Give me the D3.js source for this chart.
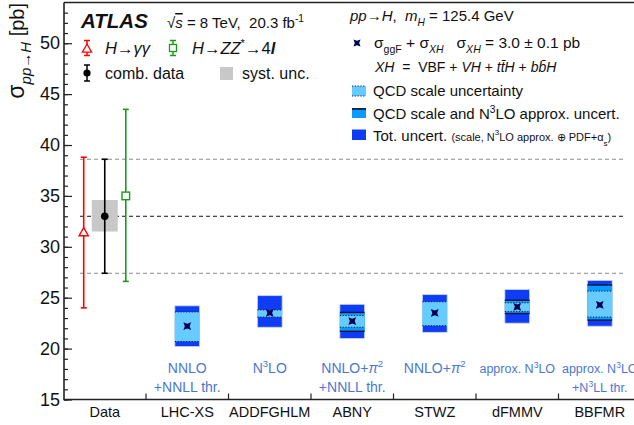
<!DOCTYPE html>
<html>
<head>
<meta charset="utf-8">
<script src="https://cdn.jsdelivr.net/npm/d3@7"></script>
<style>
  body { margin: 0; background: #fff; }
  text { font-family: "Liberation Sans", Arial, sans-serif; white-space: pre; }
</style>
</head>
<body>
<svg id="chart" width="634" height="425"></svg>
<script>
// categories on the x axis
const categories = ["Data", "LHC-XS", "ADDFGHLM", "ABNY", "STWZ", "dFMMV", "BBFMR"];
const theoryNames = ["LHC-XS", "ADDFGHLM", "ABNY", "STWZ", "dFMMV", "BBFMR"];

// measured cross sections [pb]: central, low, high
const combData = [33.0, 27.4, 38.6];
const combSyst = [31.5, 34.6];
const gamgamData = [31.4, 24.0, 38.8];
const zzData = [35.0, 26.6, 43.5];

// predictions sigma_ggF + sigma_XH [pb]
const theoryCentral = [22.2, 23.5, 22.7, 23.5, 24.1, 24.3];
const totLow = [20.2, 22.1, 21.0, 21.6, 22.5, 22.2];
const totHigh = [24.2, 25.2, 24.35, 25.3, 25.8, 26.7];
const n3loLow = [null, null, 21.7, null, 23.45, 22.8];
const n3loHigh = [null, null, 23.55, null, 24.75, 26.25];
const scaleLow = [20.7, 23.1, 22.1, 22.25, 23.65, 23.1];
const scaleHigh = [23.6, 23.8, 23.25, 24.6, 24.5, 25.65];

// order labels under each prediction
const orderLabels = [
  [["NNLO"], ["+NNLL thr."]],
  [["N", ["3", {sup: true}], "LO"]],
  [["NNLO+", ["π", {i: true}], ["2", {sup: true}]], ["+NNLL thr."]],
  [["NNLO+", ["π", {i: true}], ["2", {sup: true}]]],
  [["approx. N", ["3", {sup: true}], "LO"]],
  [["approx. N", ["3", {sup: true}], "LO"], ["+N", ["3", {sup: true}], "LL thr."]]
];
const orderSizes = [14, 14, 14, 14, 12.5, 12.5];

const yTicks = [15, 20, 25, 30, 35, 40, 45, 50];
const yDomain = [15, 54];

const svg = d3.select("#chart");
const plotLeft = 64, plotTop = 2.5, plotBottom = 399.5, plotRight = 641;

const x = d3.scaleBand().domain(categories).range([plotLeft - 0.5, plotRight]).padding(0);
const y = d3.scaleLinear().domain(yDomain).range([plotBottom, plotTop]);
const bw = x.bandwidth();
const cx = c => x(c) + bw / 2;

const dark = "#0f3cf5", medium = "#0a9bff", light = "#66ccff", navy = "#000055";
const labelBlue = "#4a78d0";

// rich text helper: parts are strings or [string, {i, b, sub, sup}]
function rich(g, px, py, parts, size) {
  const t = g.append("text").attr("x", px).attr("y", py).attr("font-size", size);
  let shift = 0;
  parts.forEach(p => {
    const [str, o] = typeof p === "string" ? [p, {}] : [p[0], p[1] || {}];
    const target = o.sub ? size * 0.32 : o.sup ? -size * 0.42 : 0;
    const ts = t.append("tspan").text(str).attr("dy", target - shift);
    shift = target;
    if (o.sub || o.sup) ts.attr("font-size", o.fs || size * 0.68);
    if (o.fs && !(o.sub || o.sup)) ts.attr("font-size", o.fs);
    if (o.i) ts.attr("font-style", "italic");
    if (o.b) ts.attr("font-weight", "bold");
    if (o.over) ts.style("text-decoration", "overline");
  });
  return t;
}

function starPath(r, ri) {
  const pts = d3.range(8).map(i => {
    const a = (i * 45 + 45) * Math.PI / 180;
    const rr = i % 2 === 0 ? r : ri;
    return [rr * Math.cos(a), rr * Math.sin(a)];
  });
  return d3.line()(pts) + "Z";
}

// dashed reference lines from the combined measurement
const dashX0 = x("Data") + bw * 0.2, dashX1 = x("BBFMR") + bw * 0.8;
[combData[1], combData[2]].forEach(v => {
  svg.append("line").attr("x1", dashX0).attr("x2", dashX1)
    .attr("y1", y(v)).attr("y2", y(v))
    .attr("stroke", "#8c8c8c").attr("stroke-width", 1).attr("stroke-dasharray", "4,3");
});
svg.append("line").attr("x1", dashX0).attr("x2", dashX1)
  .attr("y1", y(combData[0])).attr("y2", y(combData[0]))
  .attr("stroke", "#111").attr("stroke-width", 1).attr("stroke-dasharray", "4,3");

// theory boxes
const boxW = bw * 0.3;
const th = svg.append("g");
theoryNames.forEach((name, i) => {
  const xc = cx(name), x0 = xc - boxW / 2;
  th.append("rect").attr("x", x0).attr("width", boxW)
    .attr("y", y(totHigh[i])).attr("height", y(totLow[i]) - y(totHigh[i]))
    .attr("fill", dark).attr("stroke", "#c8d4f6").attr("stroke-width", 0.8);
  if (n3loLow[i] !== null) {
    th.append("rect").attr("x", x0).attr("width", boxW)
      .attr("y", y(n3loHigh[i])).attr("height", y(n3loLow[i]) - y(n3loHigh[i]))
      .attr("fill", medium);
    [n3loLow[i], n3loHigh[i]].forEach(v => {
      th.append("line").attr("x1", x0).attr("x2", x0 + boxW)
        .attr("y1", y(v)).attr("y2", y(v)).attr("stroke", "#001030").attr("stroke-width", 1.4);
    });
  }
  th.append("rect").attr("x", x0).attr("width", boxW)
    .attr("y", y(scaleHigh[i])).attr("height", y(scaleLow[i]) - y(scaleHigh[i]))
    .attr("fill", light);
  [scaleLow[i], scaleHigh[i]].forEach(v => {
    th.append("line").attr("x1", x0).attr("x2", x0 + boxW)
      .attr("y1", y(v)).attr("y2", y(v)).attr("stroke", "#002050")
      .attr("stroke-width", 1).attr("stroke-dasharray", "1.2,1.6");
  });
  th.append("path").attr("d", starPath(5.5, 2.4))
    .attr("transform", `translate(${xc},${y(theoryCentral[i])})`).attr("fill", navy);

  // order labels
  orderLabels[i].forEach((line, j) => {
    rich(th, xc, 373 + j * 19, line, orderSizes[i])
      .attr("text-anchor", "middle").attr("fill", labelBlue);
  });
});

// measurements
const meas = svg.append("g");
function errBar(g, xc, lo, hi, color) {
  g.append("line").attr("x1", xc).attr("x2", xc).attr("y1", y(lo)).attr("y2", y(hi))
    .attr("stroke", color).attr("stroke-width", 1.6);
  [lo, hi].forEach(v => g.append("line").attr("x1", xc - 3).attr("x2", xc + 3)
    .attr("y1", y(v)).attr("y2", y(v)).attr("stroke", color).attr("stroke-width", 1.6));
}
const xd = cx("Data");
meas.append("rect").attr("x", xd - 13).attr("width", 26)
  .attr("y", y(combSyst[1])).attr("height", y(combSyst[0]) - y(combSyst[1]))
  .attr("fill", "#c8c8c8");
errBar(meas, xd - bw * 0.255, gamgamData[1], gamgamData[2], "#ff0000");
errBar(meas, xd, combData[1], combData[2], "#000");
errBar(meas, xd + bw * 0.255, zzData[1], zzData[2], "#1a9a1a");
const tri = (cxp, cyp) => `M${cxp},${cyp - 5}L${cxp + 4.6},${cyp + 3.2}L${cxp - 4.6},${cyp + 3.2}Z`;
meas.append("path").attr("d", tri(xd - bw * 0.255, y(gamgamData[0])))
  .attr("fill", "#fff").attr("stroke", "#ff0000").attr("stroke-width", 1.4);
meas.append("rect").attr("x", xd + bw * 0.255 - 3.8).attr("y", y(zzData[0]) - 3.8)
  .attr("width", 7.6).attr("height", 7.6)
  .attr("fill", "#fff").attr("stroke", "#1a9a1a").attr("stroke-width", 1.4);
meas.append("circle").attr("cx", xd).attr("cy", y(combData[0])).attr("r", 3.8).attr("fill", "#000");

// axes
const yMajor = d3.axisLeft(y).tickValues(yTicks).tickSize(-8).tickPadding(4).tickFormat(d3.format("d"));
const yMinor = d3.axisLeft(y).tickValues(d3.range(yDomain[0], yDomain[1], 1)).tickSize(-4).tickFormat("");
const gMinor = svg.append("g").attr("transform", `translate(${plotLeft},0)`).call(yMinor);
const gMajor = svg.append("g").attr("transform", `translate(${plotLeft},0)`).call(yMajor);
[gMinor, gMajor].forEach(g => {
  g.select(".domain").remove();
  g.selectAll("line").attr("stroke", "#222").attr("stroke-width", 1.2);
});
gMajor.selectAll("text").attr("font-size", 18).attr("fill", "#111")
  .attr("font-family", "Liberation Sans, Arial, sans-serif");

const xAxis = d3.axisBottom(x).tickSize(0).tickPadding(7.5);
const gx = svg.append("g").attr("transform", `translate(0,${plotBottom})`).call(xAxis);
gx.select(".domain").remove();
gx.selectAll("text").attr("font-size", 14.5).attr("fill", "#111")
  .attr("font-family", "Liberation Sans, Arial, sans-serif");
categories.slice(0, -1).forEach(c => {
  svg.append("line").attr("x1", x(c) + bw).attr("x2", x(c) + bw)
    .attr("y1", plotBottom).attr("y2", plotBottom - 6).attr("stroke", "#222").attr("stroke-width", 1.2);
});

// frame
svg.append("path").attr("d", `M${plotLeft},${plotTop}V${plotBottom}H634`)
  .attr("fill", "none").attr("stroke", "#222").attr("stroke-width", 1.6);
svg.append("line").attr("x1", plotLeft).attr("x2", 634).attr("y1", plotTop).attr("y2", plotTop)
  .attr("stroke", "#222").attr("stroke-width", 1.4);

// y axis title
rich(svg, 0, 0, [["σ", {fs: 23}], ["pp→H", {sub: true, i: true, fs: 15}], [" [pb]", {fs: 20}]], 21)
  .attr("transform", "translate(24,3) rotate(-90)").attr("text-anchor", "end").attr("fill", "#111");

// left legend
const leg = svg.append("g").attr("fill", "#111");
leg.append("text").attr("x", 81).attr("y", 28).attr("font-size", 20.5)
  .attr("font-weight", "bold").attr("font-style", "italic").text("ATLAS");
rich(leg, 167, 28, ["√", ["s", {i: true, over: true}], " = 8 TeV,  20.3 fb", ["-1", {sup: true}]], 15);

const lg = leg.append("g");
function legErr(xc, yc, h, color) {
  lg.append("line").attr("x1", xc).attr("x2", xc).attr("y1", yc - h).attr("y2", yc + h)
    .attr("stroke", color).attr("stroke-width", 1.5);
  [-h, h].forEach(d => lg.append("line").attr("x1", xc - 3).attr("x2", xc + 3)
    .attr("y1", yc + d).attr("y2", yc + d).attr("stroke", color).attr("stroke-width", 1.5));
}
legErr(87, 48, 7.5, "#ff0000");
lg.append("path").attr("d", tri(87, 49)).attr("fill", "#fff").attr("stroke", "#ff0000").attr("stroke-width", 1.3);
rich(leg, 105, 54, [["H", {i: true}], "→", ["γγ", {i: true}]], 16.5);
legErr(173, 48, 7.5, "#1a9a1a");
lg.append("rect").attr("x", 169.5).attr("y", 44.5).attr("width", 7).attr("height", 7)
  .attr("fill", "#fff").attr("stroke", "#1a9a1a").attr("stroke-width", 1.3);
rich(leg, 192, 54, [["H", {i: true}], "→", ["ZZ", {i: true}], ["*", {sup: true}], "→4", ["l", {i: true, b: true}]], 16.5);
legErr(87, 73, 8, "#000");
lg.append("circle").attr("cx", 87).attr("cy", 73).attr("r", 3.6).attr("fill", "#000");
leg.append("text").attr("x", 105).attr("y", 79).attr("font-size", 16).text("comb. data");
lg.append("rect").attr("x", 220).attr("y", 67).attr("width", 13).attr("height", 13).attr("fill", "#c8c8c8");
leg.append("text").attr("x", 242).attr("y", 79).attr("font-size", 16).text("syst. unc.");

// right legend
const rl = svg.append("g").attr("fill", "#111");
rich(rl, 350, 21, [["pp", {i: true}], "→", ["H", {i: true}], ",  ", ["m", {i: true}], ["H", {sub: true, i: true}], " = 125.4 GeV"], 15);
rl.append("path").attr("d", starPath(5, 2.2)).attr("transform", "translate(357,43)").attr("fill", navy);
rich(rl, 374, 48, ["σ", ["ggF", {sub: true}], " + σ", ["XH", {sub: true, i: true}], "   σ", ["XH", {sub: true, i: true}], " = 3.0 ± 0.1 pb"], 15.5);
rich(rl, 375, 72, [["XH", {i: true}], "  =  VBF + ", ["VH", {i: true}], " + ", ["t", {i: true}], ["t\u0304", {i: true}], ["H", {i: true}], " + ", ["b", {i: true}], ["b\u0304", {i: true}], ["H", {i: true}]], 14);

const lb = rl.append("g");
lb.append("rect").attr("x", 352).attr("y", 86).attr("width", 14).attr("height", 10).attr("fill", light);
[86, 96].forEach(v => lb.append("line").attr("x1", 352).attr("x2", 366).attr("y1", v).attr("y2", v)
  .attr("stroke", "#002050").attr("stroke-width", 1).attr("stroke-dasharray", "1.2,1.6"));
lb.append("rect").attr("x", 352).attr("y", 108).attr("width", 14).attr("height", 10).attr("fill", medium);
lb.append("line").attr("x1", 352).attr("x2", 366).attr("y1", 109).attr("y2", 109)
  .attr("stroke", "#001030").attr("stroke-width", 1.6);
lb.append("rect").attr("x", 352).attr("y", 129.5).attr("width", 14).attr("height", 10.5).attr("fill", dark);
rl.append("text").attr("x", 373).attr("y", 96).attr("font-size", 15).text("QCD scale uncertainty");
rich(rl, 373, 119, ["QCD scale and N", ["3", {sup: true}], "LO approx. uncert."], 15);
rich(rl, 373, 141, ["Tot. uncert. ", ["(scale, N", {fs: 11}], ["3", {sup: true, fs: 8}], ["LO approx. ⊕ PDF+α", {fs: 11}], ["s", {sub: true, fs: 8}], [")", {fs: 11}]], 15);
</script>
</body>
</html>
